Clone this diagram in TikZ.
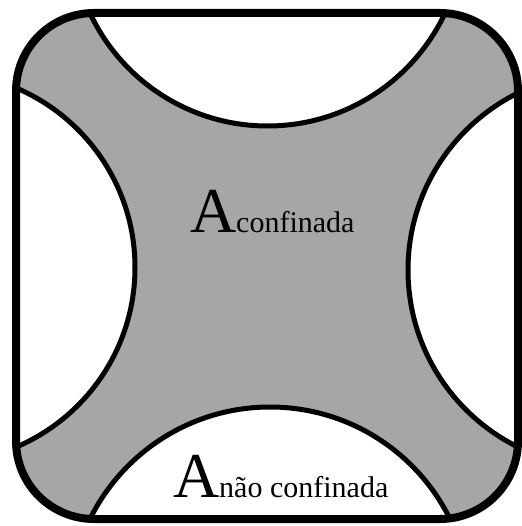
\documentclass[tikz,border=0pt]{standalone}
\usepackage{fontspec}
\setmainfont{Liberation Serif}
\definecolor{regiongray}{RGB}{166,166,166}
\tikzset{
  outline/.style={line width=8pt, draw=black},
  cutarc/.style={fill=white, draw=black, line width=5pt},
  lbl/.style={anchor=base west, inner sep=0pt, outer sep=0pt},
}
\newcommand{\bigA}{{\fontsize{64}{64}\selectfont A}}
\newcommand{\subtxt}[1]{{\fontsize{30}{30}\selectfont #1}}
\begin{document}
\begin{tikzpicture}[x=1pt,y=-1pt]
\useasboundingbox (0,0) rectangle (521,526);
\begin{scope}
  \clip[rounded corners=78pt] (16,13) rectangle (518,519);
  \fill[regiongray] (16,13) rectangle (518,519);
  \path[cutarc] (267.5,-70) circle[radius=196];
  \path[cutarc] (270,607.6) circle[radius=200.6];
  \path[cutarc] (-60,267.5) circle[radius=195];
  \path[cutarc] (605.4,270) circle[radius=197.4];
\end{scope}
\draw[outline, rounded corners=78pt] (16,13) rectangle (518,519);
\node[lbl] (conf) at (190,233) {\bigA\subtxt{confinada}};
\node[lbl] (naoconf) at (173,497) {\bigA\subtxt{não confinada}};
\end{tikzpicture}
\end{document}
